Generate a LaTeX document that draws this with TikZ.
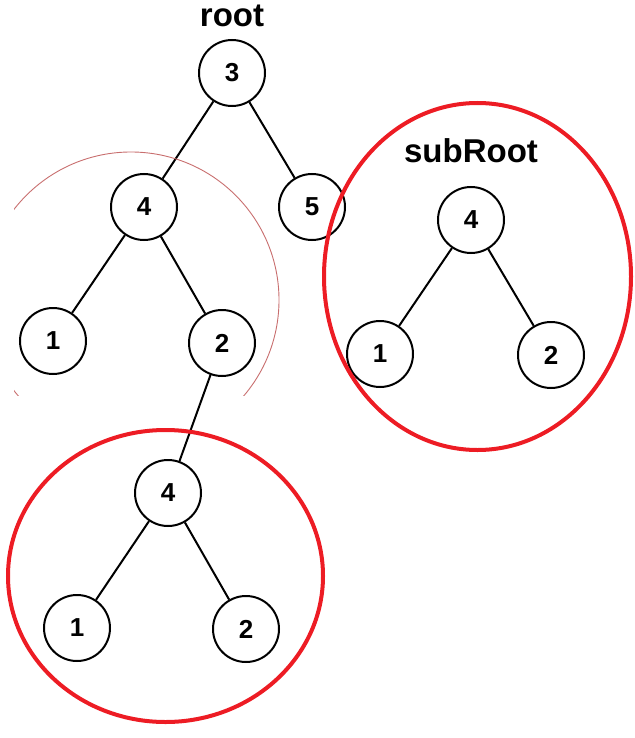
\documentclass[tikz,border=0pt]{standalone}
\usepackage{fontspec}
\setmainfont{Liberation Sans}
\usetikzlibrary{positioning}
\definecolor{markred}{RGB}{237,28,36}
\definecolor{hintred}{RGB}{200,110,110}

\begin{document}
\begin{tikzpicture}[x=1pt,y=-1pt,
    every node/.style={font=\bfseries\fontsize{26}{26}\selectfont},
    treenode/.style={circle,draw,line width=2pt,minimum size=66pt,inner sep=0pt},
    branch/.style={line width=2pt},
    ring/.style={draw=markred,line width=4pt}]
    \useasboundingbox (0,0) rectangle (634,738);
    % main tree
    \node[anchor=base,font=\bfseries\fontsize{33}{33}\selectfont] (rootlbl) at (232,27) {root};
    \node[treenode] (r3) at (232,73) {3};
    \node[treenode] (a4) at (144,207) {4};
    \node[treenode] (a5) at (312,207) {5};
    \node[treenode] (a1) at (53,341) {1};
    \node[treenode] (a2) at (222,343) {2};
    \node[treenode] (b4) at (168,493) {4};
    \node[treenode] (b1) at (77,628) {1};
    \node[treenode] (b2) at (246,629) {2};
    \foreach \u/\v in {r3/a4,r3/a5,a4/a1,a4/a2,a2/b4,b4/b1,b4/b2}{\draw[branch] (\u) -- (\v);}
    % subRoot tree
    \node[anchor=base,font=\bfseries\fontsize{33}{33}\selectfont] (sublbl) at (471,163) {subRoot};
    \node[treenode] (s4) at (471,220) {4};
    \node[treenode] (s1) at (380,354) {1};
    \node[treenode] (s2) at (551,355) {2};
    \foreach \v in {s1,s2}{\draw[branch] (s4) -- (\v);}
    % marks
    \begin{scope}
      \clip (14,0) rectangle (634,395);
      \draw[hintred,line width=0.9pt] (131,300) circle (148);
    \end{scope}
    \draw[ring] (477.5,276.5) ellipse [x radius=153.5,y radius=173.5];
    \draw[ring] (165.5,576) ellipse [x radius=157.5,y radius=146];
  \end{tikzpicture}
\end{document}
